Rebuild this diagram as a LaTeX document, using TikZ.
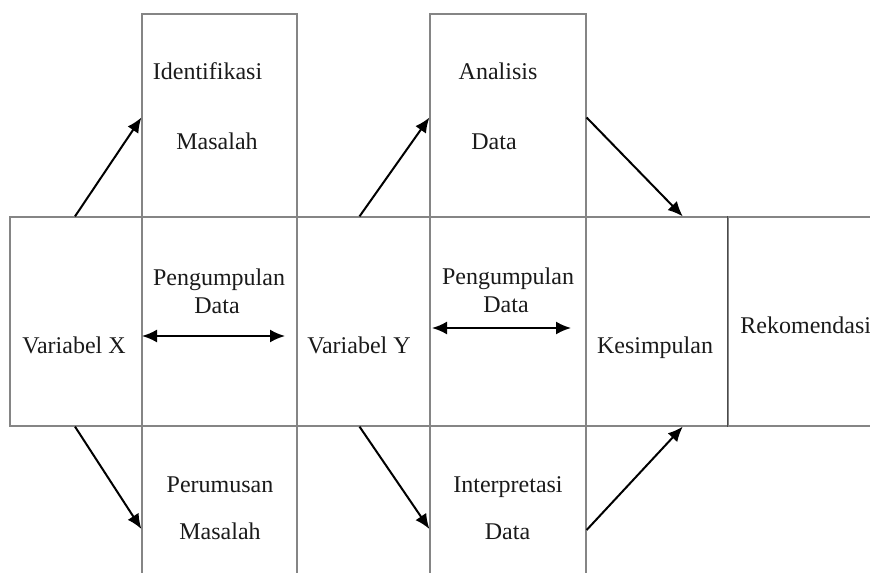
\documentclass[tikz,border=0pt]{standalone}
\usepackage{fontspec}
\setmainfont{Liberation Serif}
\usepackage{xcolor}
\usepackage{tikz}
\usetikzlibrary{
    arrows.meta,
    fit,
    calc
}
\definecolor{linegray}{HTML}{858585}
\definecolor{linedark}{HTML}{4A4A4A}
\definecolor{textgray}{HTML}{1A1A1A}

\begin{document}
\begin{tikzpicture}[
    x=0.5pt, y=-0.5pt,
    cell/.style={draw=linegray, line width=0.6pt, inner sep=0pt},
    arrow/.style={-{Latex[length=7.5pt,width=6.5pt]}, line width=1pt},
    darrow/.style={{Latex[length=7.5pt,width=6.5pt]}-{Latex[length=7.5pt,width=6.5pt]}, line width=1pt},
    label/.style={font=\fontsize{12}{14}\selectfont, text=textgray, inner sep=0pt, anchor=base}
]

\useasboundingbox (0,0) rectangle (870,572);
\clip (0,0) rectangle (870,572);

% Baris tengah
\node[cell, fit={(10,217) (142,426)}] (varx) {};
\node[cell, fit={(142,217) (297,426)}] (pd1) {};
\node[cell, fit={(297,217) (430,426)}] (vary) {};
\node[cell, fit={(430,217) (586,426)}] (pd2) {};
\node[cell, fit={(586,217) (728,426)}] (kes) {};
\node[cell, fit={(728,217) (900,426)}] (rek) {};
\draw[linedark, line width=0.6pt] (rek.north west) -- (rek.south west);

% Kotak atas dan bawah
\node[cell, fit={(142,14) (297,217)}] (idm) {};
\node[cell, fit={(430,14) (586,217)}] (ana) {};
\node[cell, fit={(142,426) (297,634)}] (rum) {};
\node[cell, fit={(430,426) (586,634)}] (inter) {};

% Teks
\node[label] (tidm1) at (207.5,80) {Identifikasi};
\node[label] (tidm2) at (217,149) {Masalah};
\node[label] (tana1) at (498,80) {Analisis};
\node[label] (tana2) at (494,149) {Data};
\node[label] (tpd11) at (219,285) {Pengumpulan};
\node[label] (tpd12) at (217,313) {Data};
\node[label] (tpd21) at (508,284) {Pengumpulan};
\node[label] (tpd22) at (506,312) {Data};
\node[label] (tvarx) at (74,353) {Variabel X};
\node[label] (tvary) at (359,353) {Variabel Y};
\node[label] (tkes) at (655,353) {Kesimpulan};
\node[label, anchor=base west] (trek) at (740,333) {Rekomendasi};
\node[label] (trum1) at (220,492) {Perumusan};
\node[label] (trum2) at (220,539) {Masalah};
\node[label] (tint1) at (508,492) {Interpretasi};
\node[label] (tint2) at (507.5,539) {Data};

% Panah
\draw[arrow] ($(varx.north)+(-1,0)$) -- ($(idm.west)+(0,2)$);
\draw[arrow] ($(varx.south)+(-1,0)$) -- ($(rum.west)+(0,-1)$);
\draw[arrow] ($(vary.north)+(-4,0)$) -- ($(ana.west)+(0,2)$);
\draw[arrow] ($(vary.south)+(-4,0)$) -- ($(inter.west)+(0,-1)$);
\draw[arrow] ($(ana.east)+(0,2)$) -- ($(kes.north west)!0.68!(kes.north east)$);
\draw[arrow] (inter.east) -- ($(kes.south west)!0.68!(kes.south east)$);

% Panah dua arah
\coordinate (d1l) at (142,336);
\coordinate (d1r) at (285,336);
\coordinate (d2l) at (432,328);
\coordinate (d2r) at (571,328);
\draw[darrow] (d1l) -- (d1r);
\draw[darrow] (d2l) -- (d2r);

\end{tikzpicture}
\end{document}
